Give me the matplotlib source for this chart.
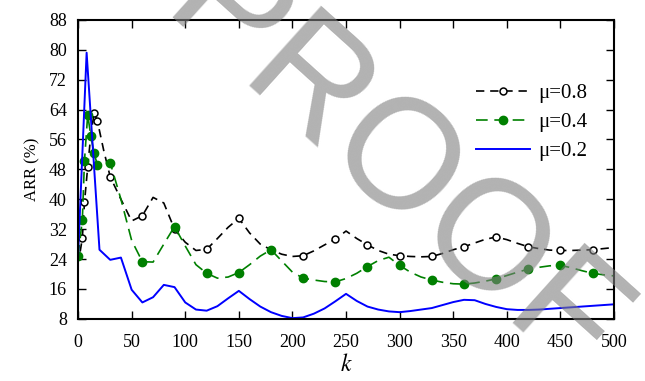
import numpy as np
import matplotlib
matplotlib.use("Agg")
import matplotlib.pyplot as plt

plt.rcParams['font.family'] = ['Liberation Serif', 'DejaVu Serif']
plt.rcParams['mathtext.fontset'] = 'stix'

# mu = 0.8
k08 = [2, 4, 6, 9, 12, 15, 18, 24, 30, 40, 50, 60, 70, 80, 90, 100, 110, 120, 130, 140,
       150, 160, 170, 180, 190, 200, 210, 220, 230, 240, 250, 260, 270, 280, 290, 300,
       310, 320, 330, 340, 350, 360, 370, 380, 390, 400, 410, 420, 430, 440, 450, 460,
       470, 480, 490, 500]
v08 = [26.0, 29.6, 39.2, 48.6, 57.5, 63.0, 61.0, 53.0, 46.0, 40.0, 34.2, 35.6, 40.5, 39.0,
       32.0, 28.5, 26.3, 26.6, 29.5, 32.5, 34.9, 31.0, 28.0, 26.5, 25.3, 24.7, 24.9, 26.2,
       27.8, 29.3, 31.5, 29.5, 27.8, 26.3, 25.3, 24.9, 24.7, 24.6, 24.7, 25.5, 26.5, 27.3,
       28.3, 29.3, 29.9, 29.2, 28.2, 27.3, 26.8, 26.4, 26.3, 26.3, 26.4, 26.5, 26.8, 27.1]
mk08 = [4, 6, 9, 15, 18, 30, 60, 90, 120, 150, 180, 210, 240, 270, 300, 330, 360, 390,
        420, 450, 480]

# mu = 0.4
k04 = [0, 4, 6, 9, 12, 15, 18, 30, 40, 50, 60, 70, 80, 90, 100, 110, 120, 130, 140, 150,
       160, 170, 180, 190, 200, 210, 220, 230, 240, 250, 260, 270, 280, 290, 300, 310,
       320, 330, 340, 350, 360, 370, 380, 390, 400, 410, 420, 430, 440, 450, 460, 470,
       480, 490, 500]
v04 = [24.7, 34.5, 50.3, 62.6, 56.8, 52.3, 49.2, 49.8, 40.0, 29.0, 23.3, 23.2, 28.0, 32.7,
       27.5, 22.5, 20.2, 18.9, 19.2, 20.4, 22.5, 24.8, 26.5, 23.5, 20.5, 18.9, 18.4, 18.0,
       17.9, 18.8, 20.2, 22.0, 23.6, 24.5, 22.3, 20.5, 19.2, 18.4, 17.8, 17.4, 17.3, 17.6,
       18.1, 18.7, 19.6, 20.5, 21.3, 21.8, 22.2, 22.3, 21.7, 20.9, 20.2, 19.8, 19.5]
mk04 = [0, 4, 6, 9, 12, 15, 18, 30, 60, 90, 120, 150, 180, 210, 240, 270, 300, 330, 360,
        390, 420, 450, 480]

# mu = 0.2
k02 = [0, 8, 20, 30, 40, 50, 60, 70, 80, 90, 100, 110, 120, 130, 140, 150, 160, 170, 180,
       190, 200, 210, 220, 230, 240, 250, 260, 270, 280, 290, 300, 310, 320, 330, 340,
       350, 360, 370, 380, 390, 400, 410, 420, 430, 440, 450, 460, 470, 480, 490, 500]
v02 = [24.7, 79.2, 26.5, 23.8, 24.4, 15.8, 12.4, 13.8, 17.1, 16.5, 12.4, 10.5, 10.2, 11.4,
       13.5, 15.5, 13.3, 11.3, 9.8, 8.8, 8.2, 8.4, 9.4, 10.8, 12.7, 14.7, 12.8, 11.3, 10.5,
       10.0, 9.8, 10.1, 10.5, 10.9, 11.7, 12.5, 13.1, 13.0, 12.0, 11.2, 10.6, 10.4, 10.4,
       10.5, 10.7, 10.9, 11.1, 11.3, 11.5, 11.7, 11.9]

xticks = list(range(0, 501, 50))
yticks = list(range(8, 89, 8))

fig = plt.figure(figsize=(6.45, 3.81), dpi=100)
ax = fig.add_axes([0.121, 0.163, 0.831, 0.785])

ax.plot(k08, v08, color='black', lw=1.2, dashes=(5, 3.5), marker='o', ms=5,
        mfc='white', mec='black', mew=1.1,
        markevery=[k08.index(x) for x in mk08], label='μ=0.8')
ax.plot(k04, v04, color='green', lw=1.2, dashes=(7, 4), marker='o', ms=6,
        mfc='green', mec='green',
        markevery=[k04.index(x) for x in mk04], label='μ=0.4')
ax.plot(k02, v02, color='blue', lw=1.4, label='μ=0.2')

ax.set_xlim(0, 500)
ax.set_ylim(8, 88)
ax.set_xticks(xticks)
ax.set_yticks(yticks)
ax.tick_params(direction='in', top=True, right=True, length=6, width=1,
               labelsize=13, pad=8)
ax.tick_params(axis='x', pad=11)
for s in ax.spines.values():
    s.set_linewidth(1.5)

ax.set_xlabel('$k$', fontsize=17, labelpad=2)
ax.set_ylabel('ARR (%)', fontsize=12, labelpad=6)

ax.legend(loc='upper right', bbox_to_anchor=(0.985, 0.85), frameon=False,
          fontsize=15, handlelength=2.6, handletextpad=0.4, labelspacing=0.45)

# watermark
fig.text(0.607, 0.55, 'PROOF', rotation=-42, rotation_mode='anchor', fontsize=112,
         color='#7f7f7f', alpha=0.6, family='Liberation Sans',
         ha='center', va='center', zorder=10)

fig.savefig('out.png', dpi=100)
